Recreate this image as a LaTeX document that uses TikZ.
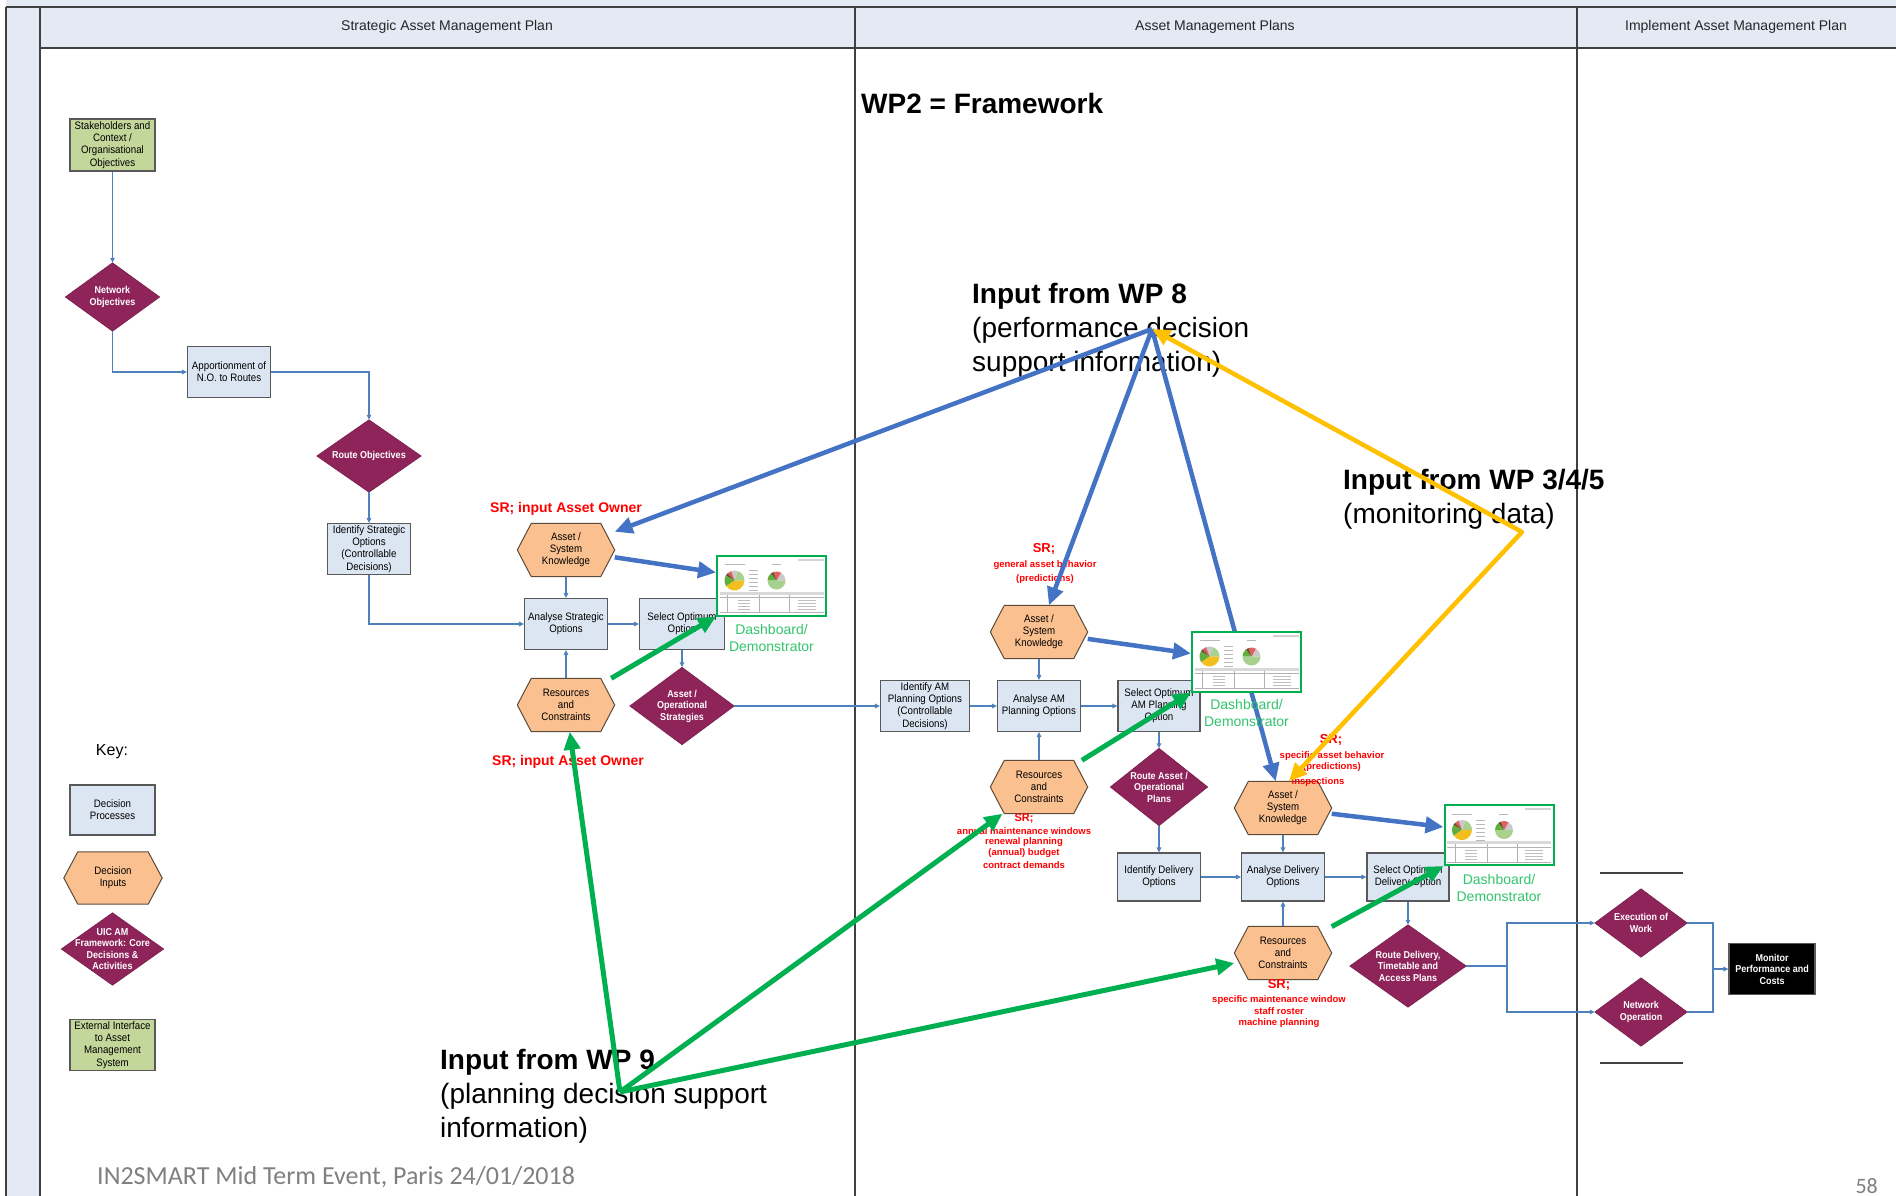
\documentclass[tikz,border=0pt]{standalone}
\usepackage{fontspec}
\setmainfont{Liberation Sans}
\newfontfamily\narrowsans[FakeStretch=0.9]{Liberation Sans}
\newfontfamily\slidefont{Carlito}
\usetikzlibrary{arrows.meta,calc}
\pgfdeclarelayer{background}
\pgfsetlayers{background,main}

\definecolor{lanefill}{HTML}{E3EAF4}
\definecolor{laneline}{HTML}{404040}
\definecolor{procfill}{HTML}{DCE6F2}
\definecolor{boxline}{HTML}{595959}
\definecolor{extfill}{HTML}{C4D79B}
\definecolor{hexfillc}{HTML}{FAC090}
\definecolor{hexline}{HTML}{5C4B3A}
\definecolor{purp}{HTML}{8E2459}
\definecolor{flowblue}{HTML}{4F81BD}
\definecolor{tkblue}{HTML}{4472C4}
\definecolor{tkgreen}{HTML}{00B050}
\definecolor{tkyellow}{HTML}{FFC000}
\definecolor{srred}{HTML}{FF0000}
\definecolor{dashtext}{HTML}{33C46E}
\definecolor{footgray}{HTML}{808080}
\definecolor{pielg}{HTML}{A9D18E}
\definecolor{piegray}{HTML}{C9C9C9}
\definecolor{piered}{HTML}{E06060}
\definecolor{piedark}{HTML}{6B4E2E}
\definecolor{piegreen}{HTML}{5FAE3E}
\definecolor{pieyel}{HTML}{F2C01E}

\tikzset{
  lanetitle/.style={inner sep=0, text=black!85, font=\fontsize{14}{16}\selectfont},
  procbox/.style={draw=boxline, line width=1.1pt, fill=procfill, minimum width=83pt,
    minimum height=51pt, inner sep=1pt, align=center,
    font=\narrowsans\fontsize{10.8}{12.2}\selectfont},
  extbox/.style={procbox, fill=extfill, minimum width=85pt, minimum height=52pt},
  monbox/.style={procbox, fill=black, text=white, minimum width=86pt,
    font=\narrowsans\bfseries\fontsize{10}{11.5}\selectfont},
  hexnode/.style={minimum width=97pt, minimum height=53pt, inner sep=0, align=center,
    font=\narrowsans\fontsize{10.8}{12.2}\selectfont},
  hexfill/.style={fill=hexfillc, draw=hexline, line width=1pt},
  dianode/.style={inner sep=0, align=center, text=white,
    font=\narrowsans\bfseries\fontsize{10}{11.5}\selectfont},
  diafill/.style={fill=purp, draw=purp!85!black, line width=0.6pt},
  dashbox/.style={draw=tkgreen, line width=2pt, fill=white, minimum width=109pt,
    minimum height=60pt, inner sep=0},
  dashlabel/.style={anchor=north, inner sep=0, align=center, text=dashtext,
    font=\fontsize{14}{17}\selectfont},
  srbig/.style={inner sep=0, text=srred, font=\bfseries\fontsize{14}{16}\selectfont},
  srmid/.style={inner sep=0, text=srred, font=\bfseries\fontsize{13}{15}\selectfont},
  srsmall/.style={inner sep=0, text=srred, font=\bfseries\fontsize{9.5}{11}\selectfont},
  bigtext/.style={anchor=north west, inner sep=0, align=left,
    font=\fontsize{28}{34}\selectfont},
  thinline/.style={draw=flowblue, line width=1.1pt},
  thinarrow/.style={thinline, -{Triangle[length=5pt,width=4.5pt]}},
  bluearrow/.style={draw=tkblue, line width=4.5pt, -{Triangle[length=18pt,width=16pt]}},
  greenarrow/.style={draw=tkgreen, line width=5pt, -{Triangle[length=18pt,width=16pt]}},
  yellowarrow/.style={draw=tkyellow, line width=4.5pt, line join=round,
    {Triangle[length=18pt,width=16pt]}-{Triangle[length=18pt,width=16pt]}}
}

% hexagon and diamond outlines around a named node
\newcommand{\hexshape}[1]{%
  \filldraw[hexfill] (#1.west) -- ([xshift=14pt]#1.north west) -- ([xshift=-14pt]#1.north east)
    -- (#1.east) -- ([xshift=-14pt]#1.south east) -- ([xshift=14pt]#1.south west) -- cycle;}
\newcommand{\diashape}[1]{%
  \filldraw[diafill] (#1.north) -- (#1.east) -- (#1.south) -- (#1.west) -- cycle;}

% small dashboard thumbnail inside a named frame
\newcommand{\thumb}[1]{%
  \begin{scope}[shift={(#1.center)}]
    \fill[gray!35] (26,-27) rectangle (52,-25);
    \draw[gray!55, line width=0.6pt] (-47,-21) -- (-27,-21) (0,-21) -- (9,-21);
    \foreach \a/\b/\c in {0/70/pielg, 70/110/piegray, 110/135/piered, 135/150/piedark,
        150/215/piegreen, 215/360/pieyel}
      \fill[\c] (-37,-5) -- ++(\a:10pt) arc[start angle=\a, end angle=\b, radius=10pt] -- cycle;
    \foreach \yy in {-15,-11,-7,-3,1,5}
      \draw[gray!55, line width=0.5pt] (-23,\yy) -- (-14,\yy);
    \foreach \a/\b/\c in {0/60/piegray, 60/110/piered, 110/130/piedark, 130/180/piegreen,
        180/360/pielg}
      \fill[\c] (5,-5) -- ++(\a:9pt) arc[start angle=\a, end angle=\b, radius=9pt] -- cycle;
    \fill[gray!30] (-52,6) rectangle (52,9);
    \draw[gray!60, line width=0.4pt] (-52,12) -- (52,12) (-52,27) -- (52,27)
      (-44,9) -- (-44,27) (-12,9) -- (-12,27) (18,9) -- (18,27);
    \foreach \yy in {15,18,21,24}
      \draw[gray!50, line width=0.5pt] (-34,\yy) -- (-22,\yy) (26,\yy) -- (44,\yy);
  \end{scope}}

\begin{document}
\begin{tikzpicture}[x=1pt, y=-1pt]
\useasboundingbox (0,0) rectangle (1896,1196);

% swimlane frame
\begin{pgfonlayer}{background}
  \fill[white] (0,0) rectangle (1896,1196);
  \fill[lanefill] (6,0) rectangle (1896,7);
  \fill[lanefill] (6,7) rectangle (40,1196);
  \fill[lanefill] (40,7) rectangle (1896,48);
  \draw[laneline, line width=1.5pt] (6,7) -- (1896,7);
  \draw[laneline, line width=1.5pt] (40,48) -- (1896,48);
  \draw[laneline, line width=1.5pt] (6,7) -- (6,1196);
  \draw[laneline, line width=1.5pt] (40,7) -- (40,1196);
  \draw[laneline, line width=1.5pt] (855,7) -- (855,1196);
  \draw[laneline, line width=1.5pt] (1577,7) -- (1577,1196);
\end{pgfonlayer}

\node[lanetitle] (lane1) at (447,27) {Strategic Asset Management Plan};
\node[lanetitle] (lane2) at (1215,27) {Asset Management Plans};
\node[lanetitle] (lane3) at (1736,27) {Implement Asset Management Plan};

% separators around the implementation activities
\draw[laneline, line width=1.5pt] (1600,873) -- (1683,873);
\draw[laneline, line width=1.5pt] (1600,1063) -- (1683,1063);

% headline texts
\node[bigtext] (wp2) at (861,93.5) {\textbf{WP2 = Framework}};
\node[bigtext] (wp8txt) at (972,283.5) {\textbf{Input from WP 8}\\(performance decision\\support information)};
\node[bigtext] (wp345txt) at (1343,469.5) {\textbf{Input from WP 3/4/5}\\(monitoring data)};
\node[bigtext] (wp9txt) at (440,1049.5) {\textbf{Input from WP 9}\\(planning decision support\\information)};

% strategic plan
\node[extbox] (stake) at (112.5,145) {Stakeholders and\\Context /\\Organisational\\Objectives};
\node[dianode, minimum width=94pt, minimum height=68pt] (netobj) at (112.5,297) {Network\\Objectives};
\node[procbox] (appor) at (229,372) {Apportionment of\\N.O. to Routes};
\node[dianode, minimum width=104pt, minimum height=72pt] (routeobj) at (369,456) {Route Objectives};
\node[procbox] (idstrat) at (369,549) {Identify Strategic\\Options\\(Controllable\\Decisions)};
\node[hexnode] (ask1) at (566,550) {Asset /\\System\\Knowledge};
\node[procbox] (anstrat) at (566,624) {Analyse Strategic\\Options};
\node[procbox, minimum width=85pt] (selstrat) at (682,624) {Select Optimum\\Option};
\node[hexnode] (res1) at (566,705) {Resources\\and\\Constraints};
\node[dianode, minimum width=104pt, minimum height=77pt] (aostrat) at (682,706) {Asset /\\Operational\\Strategies};

% asset management plans
\node[procbox, minimum width=89pt] (idam) at (925,706) {Identify AM\\Planning Options\\(Controllable\\Decisions)};
\node[procbox] (anam) at (1039,706) {Analyse AM\\Planning Options};
\node[procbox, minimum width=82pt] (selam) at (1159,706) {Select Optimum\\AM Planning\\Option};
\node[hexnode] (ask2) at (1039,632) {Asset /\\System\\Knowledge};
\node[hexnode] (res2) at (1039,787) {Resources\\and\\Constraints};
\node[dianode, minimum width=97pt, minimum height=77pt] (rap) at (1159,787) {Route Asset /\\Operational\\Plans};

\node[procbox, minimum height=48pt] (iddel) at (1159,877) {Identify Delivery\\Options};
\node[procbox, minimum height=48pt] (andel) at (1283,877) {Analyse Delivery\\Options};
\node[procbox, minimum width=82pt, minimum height=48pt] (seldel) at (1408,877) {Select Optimum\\Delivery Option};
\node[hexnode] (ask3) at (1283,808) {Asset /\\System\\Knowledge};
\node[hexnode] (res3) at (1283,953) {Resources\\and\\Constraints};
\node[dianode, minimum width=116pt, minimum height=82pt] (rdel) at (1408,966) {Route Delivery,\\Timetable and\\Access Plans};

% implementation
\node[dianode, minimum width=92pt, minimum height=68pt] (exec) at (1641,923) {Execution of\\Work};
\node[dianode, minimum width=92pt, minimum height=68pt] (netop) at (1641,1012) {Network\\Operation};
\node[monbox] (mon) at (1772,969) {Monitor\\Performance and\\Costs};

% key
\node[inner sep=0, font=\fontsize{16}{19}\selectfont] (keylbl) at (112,752) {Key:};
\node[procbox, minimum width=85pt, minimum height=50pt] (kproc) at (112.5,810) {Decision\\Processes};
\node[hexnode, minimum width=98pt, minimum height=52pt] (khex) at (113,878) {Decision\\Inputs};
\node[dianode, minimum width=102pt, minimum height=72pt] (kdia) at (112.5,949) {UIC AM\\Framework: Core\\Decisions \&\\Activities};
\node[extbox, minimum height=51pt] (kext) at (112.5,1045) {External Interface\\to Asset\\Management\\System};

\begin{pgfonlayer}{background}
  \hexshape{ask1} \hexshape{res1} \hexshape{ask2} \hexshape{res2}
  \hexshape{ask3} \hexshape{res3} \hexshape{khex}
  \diashape{netobj} \diashape{routeobj} \diashape{aostrat} \diashape{rap}
  \diashape{rdel} \diashape{exec} \diashape{netop} \diashape{kdia}
\end{pgfonlayer}

% red source notes
\node[srbig] (sr1) at (566,509) {SR; input Asset Owner};
\node[srbig] (sr2) at (568,762) {SR; input Asset Owner};

\node[srmid] (sr3a) at (1044,549) {SR;};
\node[srsmall] (sr3b) at (1045,565) {general asset behavior};
\node[srsmall] (sr3c) at (1045,579) {(predictions)};

\node[srsmall, font=\bfseries\fontsize{11}{13}\selectfont] (sr4a) at (1024,819) {SR;};
\node[srsmall] (sr4b) at (1024,831) {annual maintenance windows};
\node[srsmall] (sr4c) at (1024,842) {renewal planning};
\node[srsmall] (sr4d) at (1024,853) {(annual) budget};
\node[srsmall] (sr4e) at (1024,865) {contract demands};

\node[srmid] (sr5a) at (1331,740) {SR;};
\node[srsmall] (sr5b) at (1332,756) {specific asset behavior};
\node[srsmall] (sr5c) at (1332,767) {(predictions)};
\node[srsmall] (sr5d) at (1318,782) {inspections};

\node[srmid] (sr6a) at (1279,985) {SR;};
\node[srsmall] (sr6b) at (1279,1000) {specific maintenance window};
\node[srsmall] (sr6c) at (1279,1011) {staff roster};
\node[srsmall] (sr6d) at (1279,1023) {machine planning};

% process flow
\draw[thinarrow] (stake) -- (netobj);
\draw[thinarrow] (netobj.south) |- (appor.west);
\draw[thinarrow] (appor.east) -| (routeobj.north);
\draw[thinarrow] (routeobj.south) -- (idstrat.north);
\draw[thinarrow] (idstrat.south) |- (anstrat.west);
\draw[thinarrow] (ask1) -- (anstrat);
\draw[thinarrow] (res1) -- (anstrat);
\draw[thinarrow] (anstrat) -- (selstrat);
\draw[thinarrow] (selstrat) -- (aostrat);
\draw[thinarrow] (aostrat.east) -- (idam.west);
\draw[thinarrow] (idam) -- (anam);
\draw[thinarrow] (anam) -- (selam);
\draw[thinarrow] (ask2) -- (anam);
\draw[thinarrow] (res2) -- (anam);
\draw[thinarrow] (selam) -- (rap);
\draw[thinarrow] (rap) -- (iddel);
\draw[thinarrow] (iddel) -- (andel);
\draw[thinarrow] (andel) -- (seldel);
\draw[thinarrow] (ask3) -- (andel);
\draw[thinarrow] (res3) -- (andel);
\draw[thinarrow] (seldel) -- (rdel);
\coordinate (fork) at (1507,966);
\coordinate (join) at (1713,969);
\draw[thinline] (rdel.east) -- (fork);
\draw[thinarrow] (fork) |- (exec.west);
\draw[thinarrow] (fork) |- (netop.west);
\draw[thinline] (exec.east) -| (join) |- (netop.east);
\draw[thinarrow] (join) -- (mon.west);

% work package inputs
\coordinate (wp8) at (1152,329);
\coordinate (wp9) at (620,1092);
\coordinate (wp345) at (1522,532);

\draw[bluearrow] (wp8) -- (ask3);

% dashboards
\node[dashbox] (d1) at (771.5,585.5) {};
\node[dashbox] (d2) at (1246.5,661.5) {};
\node[dashbox] (d3) at (1499,835) {};
\thumb{d1} \thumb{d2} \thumb{d3}
\node[dashlabel] (d1lbl) at ([yshift=-8pt]d1.south) {Dashboard/\\Demonstrator};
\node[dashlabel] (d2lbl) at ([yshift=-7pt]d2.south) {Dashboard/\\Demonstrator};
\node[dashlabel] (d3lbl) at ([yshift=-8pt]d3.south) {Dashboard/\\Demonstrator};

\draw[bluearrow] (wp8) -- (ask1);
\draw[bluearrow] (wp8) -- (ask2);
\draw[yellowarrow] (wp8) -- (wp345) -- ([xshift=6pt]ask3.north);

\draw[bluearrow] (ask1) -- ([yshift=13pt]d1.west);
\draw[bluearrow] (ask2) -- ([yshift=8pt]d2.west);
\draw[bluearrow] (ask3) -- ([yshift=8pt]d3.west);

\draw[greenarrow] (res1) -- (d1.south west);
\draw[greenarrow] (res2) -- (d2.south west);
\draw[greenarrow] (res3) -- (d3.south west);

\draw[greenarrow] (wp9) -- (res1);
\draw[greenarrow] (wp9) -- (res2);
\draw[greenarrow] (wp9) -- (res3);

% slide footer
\node[anchor=base west, inner sep=0, text=footgray, font=\slidefont\fontsize{26}{30}\selectfont]
  (foot) at (97,1184) {IN2SMART Mid Term Event, Paris 24/01/2018};
\node[anchor=base east, inner sep=0, text=footgray, font=\slidefont\fontsize{22}{26}\selectfont]
  (pageno) at (1878,1193) {58};
\end{tikzpicture}
\end{document}
